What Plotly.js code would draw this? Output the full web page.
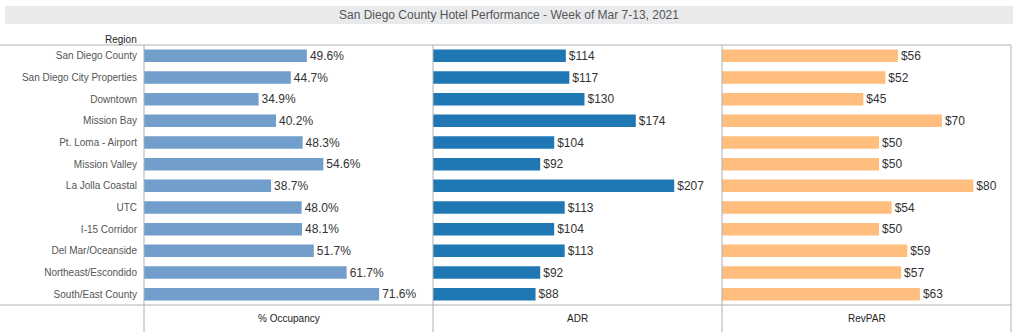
<!DOCTYPE html>
<html><head><meta charset="utf-8">
<script src="https://cdn.plot.ly/plotly-3.0.1.min.js"></script>
<style>html,body{margin:0;padding:0;background:#fff;}#chart{width:1020px;height:332px;}</style>
</head><body><div id="chart"></div>
<script>
const regions = ["San Diego County","San Diego City Properties","Downtown","Mission Bay","Pt. Loma - Airport","Mission Valley","La Jolla Coastal","UTC","I-15 Corridor","Del Mar/Oceanside","Northeast/Escondido","South/East County"];
const occupancy = [49.6,44.7,34.9,40.2,48.3,54.6,38.7,48.0,48.1,51.7,61.7,71.6];
const adr = [114,117,130,174,104,92,207,113,104,113,92,88];
const revpar = [56,52,45,70,50,50,80,54,50,59,57,63];
const panelTitles = ["% Occupancy","ADR","RevPAR"];
const chartTitle = "San Diego County Hotel Performance - Week of Mar 7-13, 2021";

const W = 1020, H = 332;
const px = x => x / W;
const py = y => 1 - y / H;
const FONT = "Liberation Sans, Arial, sans-serif";
const plotTop = 45, plotBottom = 305;
const edges = [144, 433, 722, 1011];

function tr(vals, color, xa, tmpl) {
  return {
    type: "bar", orientation: "h", y: regions, x: vals, xaxis: xa, yaxis: "y",
    marker: {color: color}, texttemplate: tmpl, textposition: "outside",
    constraintext: "none",
    cliponaxis: false, textfont: {family: FONT, size: 12, color: "#333"},
    hoverinfo: "x+y", showlegend: false
  };
}
const data = [
  tr(occupancy, "#729ecb", "x", "%{x:.1f}%"),
  tr(adr, "#1f77b4", "x2", "$%{x:.0f}"),
  tr(revpar, "#ffbe7d", "x3", "$%{x:.0f}")
];
const xcommon = {showgrid:false, zeroline:false, showticklabels:false, showline:false, fixedrange:true};
const lineC = "#b0b0b0";
const shapes = [
  {type:"rect", xref:"paper", yref:"paper", x0:px(5), x1:px(1013), y0:py(24), y1:py(6), fillcolor:"#e9eaec", line:{width:0}, layer:"below"},
  {type:"line", xref:"paper", yref:"paper", x0:0, x1:px(1011), y0:py(plotTop), y1:py(plotTop), line:{color:lineC, width:1}},
  {type:"line", xref:"paper", yref:"paper", x0:0, x1:px(1011), y0:py(plotBottom), y1:py(plotBottom), line:{color:lineC, width:1}}
];
edges.forEach(e => shapes.push({type:"line", xref:"paper", yref:"paper", x0:px(e), x1:px(e), y0:py(plotTop), y1:0, line:{color:lineC, width:1}}));
const annotations = [
  {text: chartTitle, xref:"paper", yref:"paper", x:px(509), y:py(15), showarrow:false, xanchor:"center", yanchor:"middle", font:{family:FONT, size:12, color:"#555"}},
  {text: "Region", xref:"paper", yref:"paper", x:px(139), y:py(40), showarrow:false, xanchor:"right", yanchor:"middle", font:{family:FONT, size:10, color:"#222"}}
];
panelTitles.forEach((t,i) => annotations.push({text:t, xref:"paper", yref:"paper", x:px((edges[i]+edges[i+1])/2), y:py(318), showarrow:false, xanchor:"center", yanchor:"middle", font:{family:FONT, size:10, color:"#222"}}));

const layout = {
  width: W, height: H, margin:{l:0,r:0,t:0,b:0}, paper_bgcolor:"#fff", plot_bgcolor:"rgba(0,0,0,0)",
  bargap: 0.42, showlegend:false,
  font:{family:FONT},
  xaxis: Object.assign({}, xcommon, {domain:[px(144), px(433)], range:[0, 88]}),
  xaxis2: Object.assign({}, xcommon, {domain:[px(433), px(722)], range:[0, 248]}),
  xaxis3: Object.assign({}, xcommon, {domain:[px(722), px(1011)], range:[0, 92]}),
  yaxis: {domain:[py(plotBottom), py(plotTop)], type:"category", categoryorder:"array", categoryarray: regions, range:[11.5, -0.5],
          showgrid:false, zeroline:false, showline:false, ticks:"", ticklabelstandoff:6, fixedrange:true,
          tickfont:{family:FONT, size:10, color:"#555"}},
  shapes: shapes, annotations: annotations
};
Plotly.newPlot("chart", data, layout, {displayModeBar:false, staticPlot:true});
</script></body></html>
